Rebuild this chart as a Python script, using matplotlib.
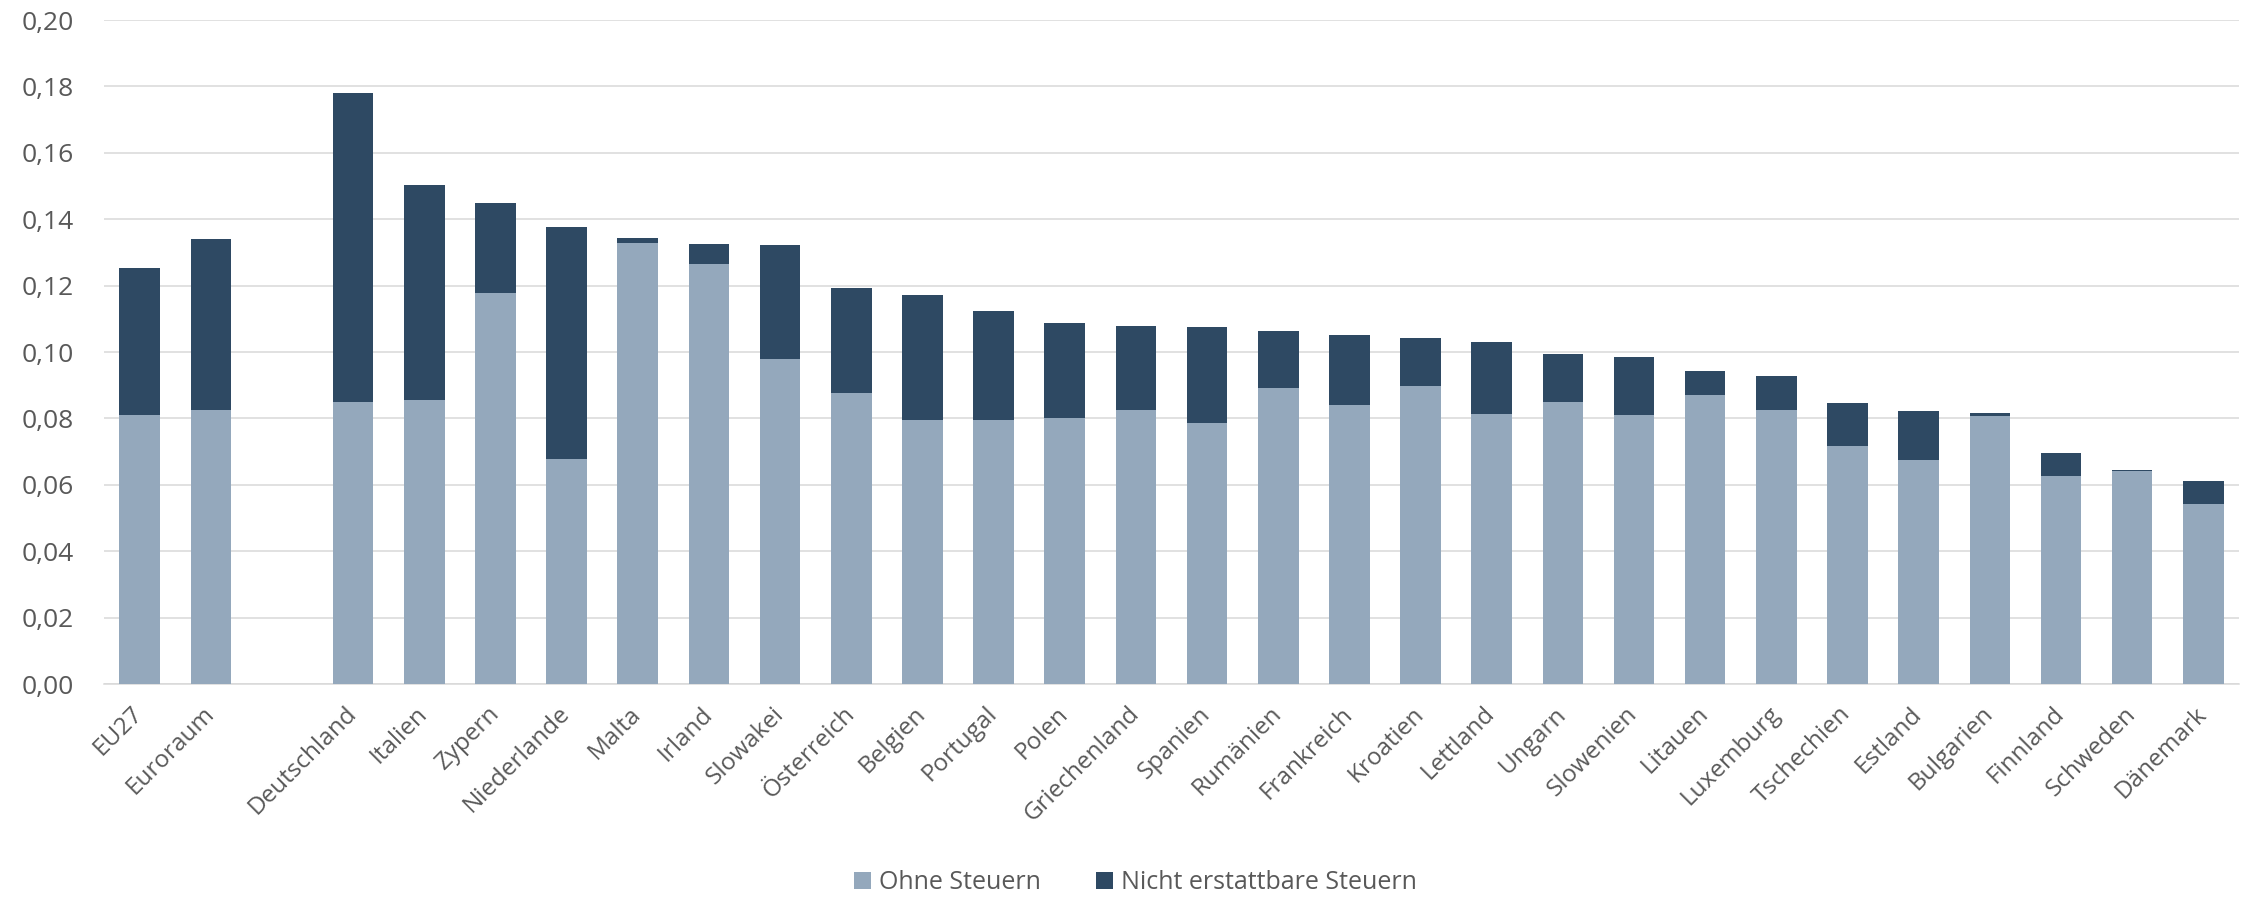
import matplotlib
matplotlib.use("Agg")
import matplotlib.pyplot as plt
import numpy as np

# data (gap slot after Euroraum)
categories = [
	"EU27", "Euroraum", "",
	"Deutschland", "Italien", "Zypern", "Niederlande", "Malta", "Irland",
	"Slowakei", "Österreich", "Belgien", "Portugal", "Polen", "Griechenland",
	"Spanien", "Rumänien", "Frankreich", "Kroatien", "Lettland", "Ungarn",
	"Slowenien", "Litauen", "Luxemburg", "Tschechien", "Estland", "Bulgarien",
	"Finnland", "Schweden", "Dänemark",
]
ohne_steuern = [
	0.0811, 0.0826, np.nan,
	0.0849, 0.0856, 0.1179, 0.0677, 0.1328, 0.1265,
	0.0978, 0.0877, 0.0795, 0.0794, 0.0800, 0.0825,
	0.0787, 0.0891, 0.0840, 0.0898, 0.0813, 0.0848,
	0.0811, 0.0870, 0.0824, 0.0716, 0.0675, 0.0806,
	0.0626, 0.0642, 0.0541,
]
gesamt = [
	0.1253, 0.1339, np.nan,
	0.1780, 0.1503, 0.1449, 0.1376, 0.1343, 0.1325,
	0.1321, 0.1192, 0.1171, 0.1125, 0.1086, 0.1079,
	0.1076, 0.1063, 0.1051, 0.1043, 0.1029, 0.0995,
	0.0984, 0.0943, 0.0928, 0.0845, 0.0822, 0.0815,
	0.0696, 0.0645, 0.0611,
]

ohne = np.array(ohne_steuern)
nicht_erstattbar = np.array(gesamt) - ohne

LIGHT = "#94A8BC"
DARK = "#2E4963"
TEXT = "#595959"
GRID = "#D9D9D9"

plt.rcParams["font.family"] = ["Open Sans", "DejaVu Sans"]

fig = plt.figure(figsize=(22.52, 8.98), dpi=100)
ax = fig.add_axes([0.0462, 0.2383, 0.948, 0.7394])

x = np.arange(len(categories))
w = 0.57
ax.bar(x, ohne, w, color=LIGHT, edgecolor="#DDE3EA", linewidth=0.6, label="Ohne Steuern", zorder=3)
ax.bar(x, nicht_erstattbar, w, bottom=ohne, color=DARK, edgecolor="#5A7088", linewidth=0.6,
	label="Nicht erstattbare Steuern", zorder=3)

ax.set_xlim(-0.5, len(categories) - 0.5)
ax.set_ylim(0, 0.20)
yt = np.arange(0, 0.201, 0.02)
ax.set_yticks(yt)
ax.set_yticklabels([f"{v:.2f}".replace(".", ",") for v in yt])
ax.yaxis.grid(True, color=GRID, linewidth=1.1, zorder=0)
ax.set_axisbelow(True)
for s in ["top", "right", "left"]:
	ax.spines[s].set_visible(False)
ax.spines["bottom"].set_color(GRID)
ax.spines["bottom"].set_linewidth(1.1)

ax.set_xticks(x)
ax.set_xticklabels(categories, rotation=45, ha="right", va="center", rotation_mode="anchor")
ax.tick_params(axis="x", length=0, pad=19, labelsize=17.5, labelcolor=TEXT)
ax.tick_params(axis="y", length=0, pad=22, labelsize=19, labelcolor=TEXT)

handles, labels = ax.get_legend_handles_labels()
for h in handles:
	for p in h.patches:
		p.set_edgecolor("none")
fig.legend(handles, labels, loc="center", bbox_to_anchor=(0.504, 0.017), ncol=2, frameon=False,
	fontsize=18, labelcolor=TEXT, handlelength=0.7, handleheight=0.7, handletextpad=0.3,
	columnspacing=2.2, borderaxespad=0)

fig.savefig("out.png", dpi=100)
